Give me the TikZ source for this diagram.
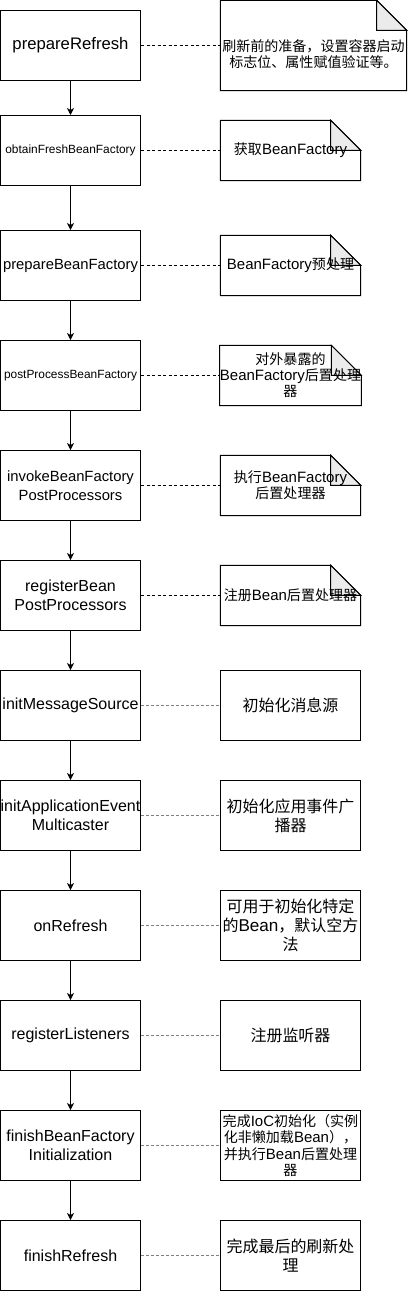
\documentclass[tikz,border=0pt]{standalone}
\usepackage{fontspec}
\setmainfont{Liberation Sans}
\newfontfamily\cjk{Noto Sans CJK SC}[Scale=0.935]
\usetikzlibrary{arrows.meta}
\pgfdeclarelayer{background}
\pgfsetlayers{background,main}
\definecolor{foldgray}{HTML}{EBEBEB}
\definecolor{dashgray}{HTML}{808080}
\newcommand{\zh}[1]{{\cjk #1}}
\newcommand{\drawnote}[1]{%
  \begin{pgfonlayer}{background}
  \draw[line width=1pt,fill=white] (#1.north west) -- ([xshift=-30pt]#1.north east) -- ([yshift=-30pt]#1.north east) -- (#1.south east) -- (#1.south west) -- cycle;
  \draw[line width=1pt,fill=foldgray] ([xshift=-30pt]#1.north east) -- ([xshift=-30pt,yshift=-30pt]#1.north east) -- ([yshift=-30pt]#1.north east) -- cycle;
  \end{pgfonlayer}}
\tikzset{
  stepbox/.style={draw,line width=1pt,minimum width=140pt,minimum height=70pt,inner sep=0pt,align=center,font=\fontsize{16}{18.5}\selectfont},
  notetext/.style={draw=none,minimum width=140pt,minimum height=60pt,inner sep=0pt,align=center,font=\fontsize{15}{16}\selectfont},
  plainnote/.style={draw,line width=1pt,minimum width=140pt,minimum height=70pt,inner sep=0pt,align=center,font=\fontsize{17.1}{19}\selectfont},
  flow/.style={line width=1pt,-{Stealth[length=7pt,width=7pt,inset=2pt]}},
  dashb/.style={line width=1pt,dash pattern=on 3pt off 2.5pt},
  dashg/.style={line width=1pt,dashgray,dash pattern=on 2.5pt off 2.5pt}
}
\begin{document}
\begin{tikzpicture}[x=1pt,y=-1pt]
\useasboundingbox (0,0) rectangle (408,1291);
% left boxes
\node[stepbox,font=\fontsize{16.7}{19}\selectfont] (b1) at (70.5,45.5) {prepareRefresh};
\node[stepbox,font=\fontsize{11.9}{14}\selectfont] (b2) at (70.5,150.5) {obtainFreshBeanFactory};
\node[stepbox,font=\fontsize{14.8}{17}\selectfont] (b3) at (70.5,265.5) {prepareBeanFactory};
\node[stepbox,font=\fontsize{11.9}{14}\selectfont] (b4) at (70.5,375.5) {postProcessBeanFactory};
\node[stepbox,font=\fontsize{14.8}{18.5}\selectfont] (b5) at (70.5,485.5) {invokeBeanFactory\\PostProcessors};
\node[stepbox] (b6) at (70.5,595.5) {registerBean\\PostProcessors};
\node[stepbox] (b7) at (70.5,705.5) {initMessageSource};
\node[stepbox] (b8) at (70.5,815.5) {initApplicationEvent\\Multicaster};
\node[stepbox] (b9) at (70.5,925.5) {onRefresh};
\node[stepbox] (b10) at (70.5,1035.5) {registerListeners};
\node[stepbox] (b11) at (70.5,1145.5) {finishBeanFactory\\Initialization};
\node[stepbox] (b12) at (70.5,1255.5) {finishRefresh};
% notes
\node[notetext,minimum width=186pt,minimum height=90pt] (n1) at (313.5,45.5) {};
\node[notetext] at (313.5,54.5) {\zh{刷新前的准备，设置容器启动}\\\zh{标志位、属性赋值验证等。}};
\node[notetext] (n2) at (290.5,150.5) {\zh{获取}BeanFactory};
\node[notetext] (n3) at (290.5,265.5) {BeanFactory\zh{预处理}};
\node[notetext] (n4) at (290.5,375.5) {\zh{对外暴露的}\\BeanFactory\zh{后置处理}\\\zh{器}};
\node[notetext] (n5) at (290.5,485.5) {\zh{执行}BeanFactory\\\zh{后置处理器}};
\node[notetext] (n6) at (290.5,595.5) {\zh{注册}Bean\zh{后置处理器}};
\drawnote{n1}\drawnote{n2}\drawnote{n3}\drawnote{n4}\drawnote{n5}\drawnote{n6}
\node[plainnote] (n7) at (290.5,705.5) {\zh{初始化消息源}};
\node[plainnote] (n8) at (290.5,815.5) {\zh{初始化应用事件广}\\\zh{播器}};
\node[plainnote] (n9) at (290.5,925.5) {\zh{可用于初始化特定}\\\zh{的}Bean\zh{，默认空方}\\\zh{法}};
\node[plainnote] (n10) at (290.5,1035.5) {\zh{注册监听器}};
\node[plainnote,font=\fontsize{15}{16.2}\selectfont] (n11) at (290.5,1145.5) {\zh{完成}IoC\zh{初始化（实例}\\\zh{化非懒加载}Bean\zh{），}\\\zh{并执行}Bean\zh{后置处理}\\\zh{器}};
\node[plainnote] (n12) at (290.5,1255.5) {\zh{完成最后的刷新处}\\\zh{理}};
% flow arrows
\foreach \a/\b in {b1/b2,b2/b3,b3/b4,b4/b5,b5/b6,b6/b7,b7/b8,b8/b9,b9/b10,b10/b11,b11/b12}
  \draw[flow] (\a.south) -- (\b.north);
% dashed links
\foreach \i in {1,...,6}
  \draw[dashb] (b\i.east) -- (b\i.east -| n\i.west);
\foreach \i in {7,...,12}
  \draw[dashg] (b\i.east) -- (b\i.east -| n\i.west);
\end{tikzpicture}
\end{document}
